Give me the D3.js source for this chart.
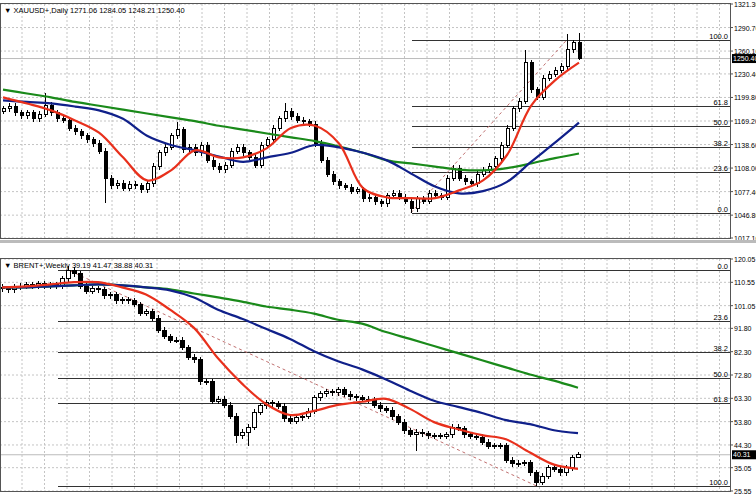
<!DOCTYPE html>
<html><head><meta charset="utf-8">
<script src="https://cdn.jsdelivr.net/npm/d3@7"></script>
<style>body{margin:0;background:#fff}text{font-family:"Liberation Sans",Arial,sans-serif}</style>
</head><body><svg id="c" width="756" height="500"></svg>
<script>
// ---- gold daily ----
const goldCloses = [1185,1188,1180,1176,1180,1172,1178,1190,1180,1172,1170,1160,1155,1150,1145,1140,1130,1095,1085,1088,
  1082,1087,1085,1080,1088,1110,1128,1135,1150,1158,1132,1135,1128,1138,1118,1110,1106,1112,1130,1135,
  1128,1122,1112,1138,1145,1160,1172,1182,1175,1170,1168,1165,1140,1118,1100,1090,1085,1083,1078,1080,
  1068,1070,1064,1062,1072,1075,1070,1065,1055,1068,1065,1075,1072,1070,1095,1108,1095,1090,1088,1100,
  1105,1110,1120,1138,1160,1185,1195,1245,1210,1200,1225,1230,1235,1240,1262,1271.06,1250.40];
const goldFirstOpen = 1182;
const goldSpikes = {7:[1205,null],17:[null,1062],29:[1168,null],47:[1192,null],68:[null,1050],87:[1262,null],94:[1282,null],96:[1284.05,1248.21]};
const goldMaRed = [1200,1192,1183,1170,1154,1122,1092,1105,1131,1122,1122,1134,1160,1163,1140,1082,1070,1069,1069,1079,1092,1125,1189,1222,1245];
const goldMaBlue = [1196,1194,1192,1188,1183,1172,1150,1138,1131,1123,1116,1122,1128,1138,1135,1128,1118,1101,1084,1075,1078,1090,1116,1141,1167];
const goldMaGreen = [1210,1205,1200,1194,1189,1184,1179,1174,1169,1163,1158,1153,1148,1143,1136,1128,1118,1114,1110,1106,1105,1108,1114,1121,1127];
const goldTicks = [1321.30,1290.70,1260.10,1230.40,1199.80,1169.20,1138.60,1108.00,1077.40,1046.80,1017.10];
const goldFibLow = 1050, goldFibHigh = 1275;
const goldFibLowIdx = 68, goldFibHighIdx = 94;

// ---- brent weekly ----
const brentCloses = [108,107.5,108.5,109,109.5,109,110,109,109.5,109,112,115.5,114,109,107,108,107.5,105,105.5,103,
  103.5,103,101.5,98,98.5,96,91,88.5,87,87,84,80,79,70,70,62,63,60.5,56,48,
  49.5,51.5,57.7,60.2,61.5,61,60,55,54,55.3,56,58,63.5,65.2,66,65.5,66.8,65,64,63.5,
  63,62.5,60.5,59,58.5,55.7,53.6,50,48.7,49.5,48.8,48,48,47.8,48.5,51.5,51,48.5,47.8,47.5,
  45.4,43.7,44,44,38,36.7,36.8,37,33,29,31.5,35,34.5,33,35,39.19,40.31];
const brentFirstOpen = 108.5;
const brentSpikes = {11:[117,null],39:[null,45],41:[null,44],69:[null,42],89:[null,27.5],96:[41.47,38.88]};
const brentMaRed = [108.5,108.9,109.7,110.6,110.6,108.5,105.6,99.4,92,79.6,69.3,61,56.5,58.2,60.6,61.9,63.1,59,53.6,50.7,48.3,46.6,41.2,36.3,34.6];
const brentMaBlue = [108.5,108.5,108.9,109.3,109.7,109.3,108.5,107.3,104.4,99.4,95.7,91.6,87.5,82.5,78.4,75.1,71,66.4,62.3,59.8,57.3,54.4,52.8,50.3,49.1];
const brentMaGreen = [108.5,108.5,108.9,109.3,109.7,109.3,108.5,107.7,106,104.4,102.7,100.7,99.4,97.8,95.3,93.7,90.3,87.5,84.6,81.7,78.8,75.9,73,70.5,67.6];
const brentTicks = [120.05,110.55,101.05,91.80,82.30,72.80,63.30,53.80,44.30,35.05,25.55];
const brentFibLow = 27.7, brentFibHigh = 115.6;
const brentFibLowIdx = 89, brentFibHighIdx = 11;

const fibLevels = [0, 23.6, 38.2, 50.0, 61.8, 100.0];
const plotRight = 730;

const svg = d3.select("#c");
svg.append("rect").attr("width", 756).attr("height", 500).attr("fill", "#fff");

function buildCandles(closes, firstOpen, spikes, wick) {
  return closes.map((c, i) => {
    const o = i === 0 ? firstOpen : closes[i - 1];
    const s = spikes[i] || [null, null];
    const h = s[0] != null ? s[0] : Math.max(o, c) + wick;
    const l = s[1] != null ? s[1] : Math.min(o, c) - wick;
    return { i, o, h, l, c };
  });
}

function drawPanel(cfg) {
  const g = svg.append("g");
  const y = d3.scaleLinear().domain([cfg.ticks[cfg.ticks.length - 1], cfg.ticks[0]]).range([cfg.bottom, cfg.top]);
  const x = d3.scaleLinear().domain([0, cfg.closes.length - 1]).range([cfg.x0, cfg.x1]);

  // grid
  d3.range(22, plotRight, 22.5).forEach((gx) => {
    g.append("line").attr("x1", gx).attr("x2", gx).attr("y1", cfg.top).attr("y2", cfg.bottom)
      .attr("stroke", "#c4c4c4").attr("stroke-dasharray", "2,2");
  });
  cfg.ticks.forEach((t) => {
    g.append("line").attr("x1", 0).attr("x2", plotRight).attr("y1", y(t)).attr("y2", y(t))
      .attr("stroke", "#c4c4c4").attr("stroke-dasharray", "2,2");
  });

  // fibo
  const range = cfg.fibHigh - cfg.fibLow;
  fibLevels.forEach((lv) => {
    const v = cfg.fibFromHigh ? cfg.fibHigh - range * lv / 100 : cfg.fibLow + range * lv / 100;
    const yy = Math.round(y(v)) + 0.5;
    g.append("line").attr("x1", cfg.fibX).attr("x2", plotRight).attr("y1", yy).attr("y2", yy)
      .attr("stroke", "#333").attr("stroke-width", 1);
    g.append("text").attr("x", plotRight - 2).attr("y", yy - 2).attr("text-anchor", "end")
      .attr("font-size", 7.5).attr("fill", "#000").text(lv.toFixed(1));
  });
  g.append("line")
    .attr("x1", x(cfg.fibLowIdx)).attr("y1", y(cfg.fibLow))
    .attr("x2", x(cfg.fibHighIdx)).attr("y2", y(cfg.fibHigh))
    .attr("stroke", "#c07070").attr("stroke-dasharray", "3,3").attr("stroke-width", 1);

  // bid line
  const last = cfg.closes[cfg.closes.length - 1];
  g.append("line").attr("x1", 0).attr("x2", plotRight).attr("y1", y(last)).attr("y2", y(last))
    .attr("stroke", "#bbb");

  // candles
  const candles = buildCandles(cfg.closes, cfg.firstOpen, cfg.spikes, cfg.wick);
  const cg = g.append("g").attr("shape-rendering", "crispEdges");
  cg.selectAll(".wick").data(candles).enter().append("line")
    .attr("x1", (d) => Math.round(x(d.i)) + 0.5).attr("x2", (d) => Math.round(x(d.i)) + 0.5)
    .attr("y1", (d) => y(d.h)).attr("y2", (d) => y(d.l)).attr("stroke", "#000");
  cg.selectAll(".body").data(candles).enter().append("rect")
    .attr("x", (d) => Math.round(x(d.i)) - cfg.bw / 2 + 0.5)
    .attr("y", (d) => y(Math.max(d.o, d.c)))
    .attr("width", cfg.bw)
    .attr("height", (d) => Math.max(1, Math.abs(y(d.o) - y(d.c))))
    .attr("fill", (d) => (d.c >= d.o ? "#fff" : "#000")).attr("stroke", "#000").attr("stroke-width", 1);

  // moving averages
  const line = d3.line().x((d, i) => x(i * 4)).y((d) => y(d)).curve(d3.curveCatmullRom);
  [[cfg.green, "#1a8a1a"], [cfg.blue, "#10208a"], [cfg.red, "#e8301c"]].forEach(([data, col]) => {
    g.append("path").attr("d", line(data)).attr("fill", "none").attr("stroke", col).attr("stroke-width", 2.2);
  });

  // frame and axis
  g.append("rect").attr("x", 0.5).attr("y", cfg.top - 0.5).attr("width", plotRight).attr("height", cfg.bottom - cfg.top + 1)
    .attr("fill", "none").attr("stroke", "#555");
  cfg.ticks.forEach((t) => {
    g.append("line").attr("x1", plotRight).attr("x2", plotRight + 3).attr("y1", y(t)).attr("y2", y(t)).attr("stroke", "#555");
    g.append("text").attr("x", plotRight + 4).attr("y", y(t) + 3).attr("font-size", 7).attr("fill", "#000")
      .text(t.toFixed(2));
  });
  const lbl = last.toFixed(2);
  g.append("rect").attr("x", plotRight + 2).attr("y", y(last) - 4.5).attr("width", 24).attr("height", 9).attr("fill", "#000");
  g.append("text").attr("x", plotRight + 3).attr("y", y(last) + 2.5).attr("font-size", 7).attr("fill", "#fff").text(lbl);

  g.append("text").attr("x", 4).attr("y", cfg.top + 9).attr("font-size", 7.5).attr("fill", "#000")
    .text(cfg.title);
}

drawPanel({
  top: 4, bottom: 238, x0: 3, x1: 579, closes: goldCloses, firstOpen: goldFirstOpen, spikes: goldSpikes, wick: 4, bw: 3,
  red: goldMaRed, blue: goldMaBlue, green: goldMaGreen, ticks: goldTicks,
  fibLow: goldFibLow, fibHigh: goldFibHigh, fibLowIdx: goldFibLowIdx, fibHighIdx: goldFibHighIdx, fibFromHigh: false, fibX: 412,
  title: "▼ XAUUSD+,Daily  1271.06 1284.05 1248.21 1250.40"
});
drawPanel({
  top: 259, bottom: 491, x0: 2, x1: 578, closes: brentCloses, firstOpen: brentFirstOpen, spikes: brentSpikes, wick: 1.2, bw: 4,
  red: brentMaRed, blue: brentMaBlue, green: brentMaGreen, ticks: brentTicks,
  fibLow: brentFibLow, fibHigh: brentFibHigh, fibLowIdx: brentFibLowIdx, fibHighIdx: brentFibHighIdx, fibFromHigh: true, fibX: 58,
  title: "▼ BRENT+,Weekly  39.19 41.47 38.88 40.31"
});
// separator between panels
svg.append("rect").attr("x", 0).attr("y", 240).attr("width", 756).attr("height", 3).attr("fill", "#bbb");
</script></body></html>
